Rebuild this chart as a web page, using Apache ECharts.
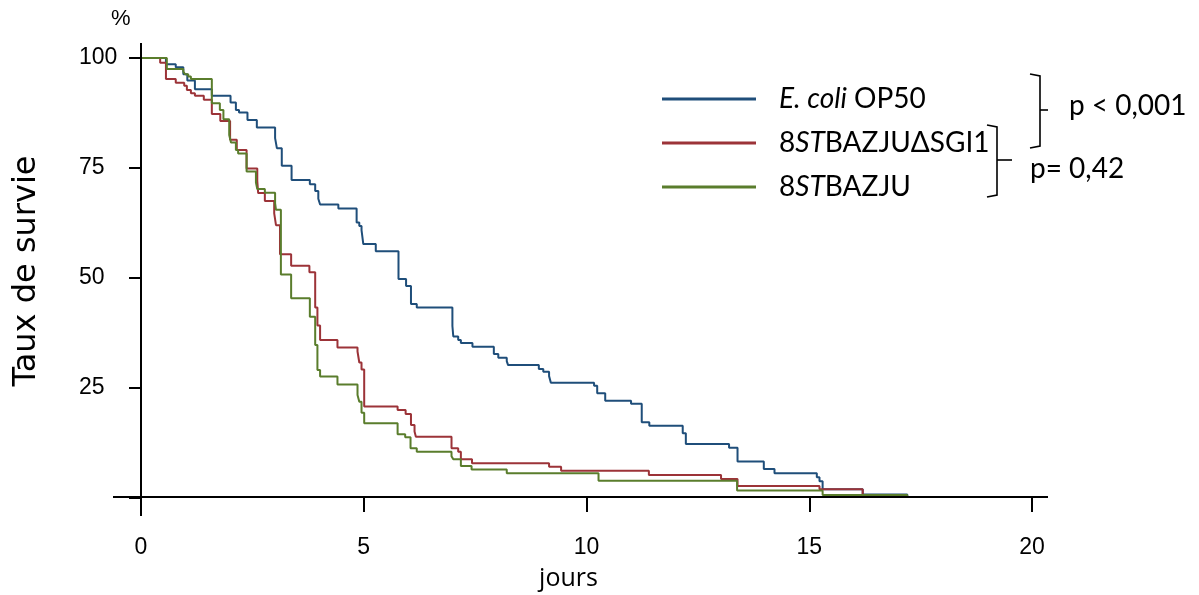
<!DOCTYPE html>
<html>
<head>
<meta charset="utf-8">
<script src="https://cdn.jsdelivr.net/npm/echarts@6/dist/echarts.min.js"></script>
<style>
html,body{margin:0;padding:0;background:#fff;}
#chart{width:1199px;height:595px;}
</style>
</head>
<body>
<div id="chart"></div>
<script>
// ---- Data ----
const seriesNames = ['E. coli OP50', '8STBAZJUΔSGI1', '8STBAZJU'];
const xTicks = [0, 5, 10, 15, 20];
const yTicks = [25, 50, 75, 100];

const ecoliDays = [0, 0.56, 0.78, 0.95, 1.04, 1.21, 1.59, 2.01, 2.13, 2.2, 2.39, 2.6, 3.01, 3.05, 3.16, 3.38, 3.79, 3.91, 3.98, 4.02, 4.43, 4.84, 4.9, 4.95, 4.99, 5.27, 5.78, 5.95, 6.06, 6.19, 6.99, 7.01, 7.12, 7.18, 7.44, 7.92, 8.02, 8.21, 8.24, 8.93, 9.03, 9.16, 9.2, 10.17, 10.24, 10.42, 11.0, 11.24, 11.41, 12.16, 12.23, 13.2, 13.39, 13.98, 14.22, 15.17, 15.23, 15.3, 16.2, 17.2];
const ecoliSurv = [100, 98.6, 97.9, 96.3, 94.9, 92.9, 91.4, 89.9, 88.2, 87.6, 85.9, 84.2, 81.8, 79.5, 75.5, 72.3, 71.3, 69.8, 68.0, 66.7, 65.8, 62.6, 61.8, 60.9, 57.7, 56.1, 49.8, 48.2, 44.1, 43.3, 39.1, 36.7, 35.9, 35.2, 34.4, 32.7, 31.9, 31.1, 30.2, 29.3, 28.7, 27.7, 26.2, 25.5, 23.8, 22.1, 21.4, 17.2, 16.4, 14.7, 12.3, 11.4, 8.3, 6.6, 5.6, 4.7, 3.8, 2.0, 0.8, 0];

const dsgiDays = [0, 0.43, 0.56, 0.78, 0.97, 1.03, 1.12, 1.21, 1.41, 1.59, 1.78, 2.0, 2.15, 2.37, 2.61, 2.63, 2.78, 2.99, 3.03, 3.12, 3.37, 3.78, 3.91, 3.96, 4.02, 4.41, 4.86, 4.9, 4.95, 5.01, 5.76, 5.94, 6.06, 6.14, 6.17, 6.97, 7.12, 7.18, 7.43, 9.16, 9.43, 11.4, 13.02, 13.39, 15.23, 16.2];
const dsgiSurv = [100, 98.9, 95.2, 94.4, 93.7, 92.7, 92.0, 91.4, 90.5, 87.3, 85.7, 81.4, 79.1, 74.9, 72.1, 69.3, 67.5, 64.7, 62.0, 55.4, 52.8, 51.3, 43.3, 39.2, 35.9, 34.2, 33.3, 30.8, 29.2, 20.8, 20.0, 19.1, 16.6, 15.1, 13.9, 11.3, 10.5, 8.8, 7.9, 7.1, 6.2, 5.2, 4.3, 2.7, 2.0, 0];

const wtDays = [0, 0.58, 0.95, 0.99, 1.06, 1.12, 1.59, 1.77, 1.85, 1.98, 2.02, 2.13, 2.18, 2.37, 2.58, 2.61, 2.78, 3.01, 3.03, 3.14, 3.37, 3.79, 3.91, 3.96, 4.02, 4.41, 4.86, 4.9, 4.95, 5.01, 5.76, 5.93, 6.05, 6.19, 6.97, 7.01, 7.18, 7.42, 8.21, 10.27, 13.38, 15.3, 17.2];
const wtSurv = [100, 97.5, 96.9, 96.3, 95.8, 95.2, 89.7, 88.2, 86.1, 82.5, 80.8, 79.1, 78.3, 74.2, 71.7, 70.2, 69.4, 67.0, 65.5, 50.8, 45.4, 41.2, 34.8, 29.1, 27.6, 25.8, 23.4, 21.9, 19.4, 17.0, 14.5, 13.8, 11.3, 10.5, 9.5, 8.8, 7.3, 6.5, 5.6, 3.9, 1.7, 0.7, 0];

const pLabels = ['p < 0,001', 'p= 0,42'];

// ---- Chart ----
const colors = ['#1f4e7a', '#9c3338', '#5a7d2c'];
const zip = (a, b) => a.map((v, i) => [v, b[i]]);
const chart = echarts.init(document.getElementById('chart'), null, {renderer: 'canvas'});

function makeSeries(name, days, surv, color) {
  return {
    name: name, type: 'line', step: 'end', data: zip(days, surv),
    showSymbol: false, symbol: 'none', color: color,
    lineStyle: {color: color, width: 2}, itemStyle: {color: color},
    animation: false
  };
}

const legendFont = 'Lato';
const option = {
  animation: false,
  backgroundColor: '#fff',
  grid: {left: 141, right: 167, top: 58, bottom: 97, outerBoundsMode: 'none', containLabel: false},
  legend: {
    orient: 'vertical', left: 657, top: 80, itemWidth: 94, itemHeight: 3, itemGap: 16,
    icon: 'rect', selectedMode: false,
    data: seriesNames,
    formatter: function (n) {
      if (n === seriesNames[0]) return '{i|E. coli} OP50';
      if (n === seriesNames[1]) return '8{i|ST}BAZJUΔSGI1';
      return '8{i|ST}BAZJU';
    },
    textStyle: {
      fontFamily: legendFont, fontSize: 28, color: '#000', padding: [0, 0, 0, 18],
      rich: {i: {fontFamily: legendFont, fontSize: 28, fontStyle: 'italic', color: '#000'}}
    }
  },
  xAxis: {
    type: 'value', min: 0, max: 20, interval: 5,
    axisLine: {show: false},
    axisTick: {show: true, length: 14, lineStyle: {color: '#000', width: 2}},
    axisLabel: {margin: 38, fontFamily: 'Liberation Sans', fontSize: 23, color: '#000',
      formatter: v => xTicks.includes(v) ? String(v) : ''},
    splitLine: {show: false},
    name: 'jours', nameLocation: 'middle', nameGap: 68,
    nameTextStyle: {fontFamily: 'Open Sans', fontSize: 25, color: '#000', padding: [0, 36, 0, 0]}
  },
  yAxis: {
    type: 'value', min: 0, max: 100, interval: 25,
    axisLine: {show: false},
    axisTick: {show: true, length: 12, lineStyle: {color: '#000', width: 2}},
    axisLabel: {margin: 62, align: 'left', fontFamily: 'Liberation Sans', fontSize: 23, color: '#000',
      formatter: v => yTicks.includes(v) ? String(v) : ''},
    splitLine: {show: false},
    name: 'Taux de survie', nameLocation: 'middle', nameGap: 98, nameRotate: 90,
    nameTextStyle: {fontFamily: 'DejaVu Sans', fontSize: 32, color: '#000', padding: [0, 0, 0, 14]}
  },
  series: [
    makeSeries(seriesNames[0], ecoliDays, ecoliSurv, colors[0]),
    makeSeries(seriesNames[1], dsgiDays, dsgiSurv, colors[1]),
    makeSeries(seriesNames[2], wtDays, wtSurv, colors[2])
  ]
};
chart.setOption(option);

// Axis lines that overshoot the plotting area, and annotations
const o = chart.convertToPixel({gridIndex: 0}, [0, 0]);
const e = chart.convertToPixel({gridIndex: 0}, [20, 100]);
const lineStyle = {stroke: '#000', lineWidth: 2};
const bracketStyle = {stroke: '#000', lineWidth: 1.6, fill: null};
chart.setOption({
  graphic: [
    {type: 'line', shape: {x1: o[0] - 28, y1: o[1] - 1, x2: e[0] + 16, y2: o[1] - 1}, style: lineStyle, z: 10},
    {type: 'line', shape: {x1: o[0], y1: e[1] - 15, x2: o[0], y2: o[1] + 18}, style: lineStyle, z: 10},
    {type: 'text', left: 111, top: 8, style: {text: '%', font: '22px "Liberation Sans"', fill: '#000'}},
    {type: 'polyline', shape: {points: [[1030, 74], [1040, 76], [1040, 146], [1030, 148]]}, style: bracketStyle},
    {type: 'line', shape: {x1: 1040, y1: 110, x2: 1048, y2: 110}, style: bracketStyle},
    {type: 'polyline', shape: {points: [[987, 125], [997, 127], [997, 195], [987, 197]]}, style: bracketStyle},
    {type: 'line', shape: {x1: 997, y1: 160, x2: 1012, y2: 160}, style: bracketStyle},
    {type: 'text', left: 1069, top: 92, style: {text: pLabels[0], font: '28px Lato', fill: '#000'}},
    {type: 'text', left: 1030, top: 155, style: {text: pLabels[1], font: '28px Lato', fill: '#000'}}
  ]
});
</script>
</body>
</html>
